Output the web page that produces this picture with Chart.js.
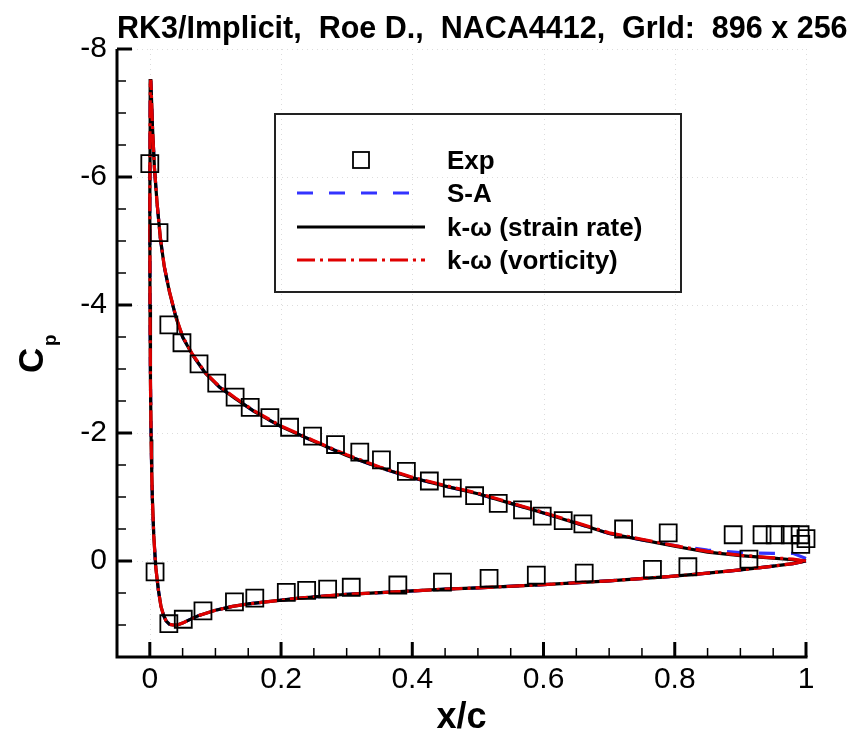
<!DOCTYPE html>
<html>
<head>
<meta charset="utf-8">
<script src="https://cdn.jsdelivr.net/npm/chart.js@4.4.1/dist/chart.umd.min.js"></script>
<style>
  html, body { margin: 0; padding: 0; background: #fff; }
  canvas { display: block; }
</style>
</head>
<body>
<canvas id="cpChart" width="860" height="732"></canvas>
<script>
const titleText = 'RK3/Implicit,  Roe D.,  NACA4412,  GrId:  896 x 256';
const xTicks = [0, 0.2, 0.4, 0.6, 0.8, 1];
const yTicks = [-8, -6, -4, -2, 0];

// surface stations: TE -> upper surface -> LE -> stagnation -> lower surface -> TE
const surfX = [
  1.0, 0.98, 0.95, 0.9, 0.85, 0.8, 0.75, 0.7, 0.65, 0.6, 0.55, 0.5, 0.45, 0.4, 0.35, 0.3, 0.25,
  0.2, 0.16, 0.13, 0.106, 0.085, 0.065, 0.05, 0.04, 0.03, 0.022, 0.016, 0.011, 0.007, 0.004, 0.0025, 0.0015,
  0.0008, 0.0003, 0.0, 0.0003, 0.001, 0.002, 0.003, 0.004, 0.006, 0.009, 0.013, 0.017, 0.021, 0.025, 0.03, 0.035,
  0.042, 0.05, 0.06, 0.075, 0.1, 0.126, 0.15, 0.177, 0.228, 0.3, 0.38, 0.45, 0.5, 0.6, 0.7, 0.79, 0.85, 0.9, 0.95, 0.98, 1.0
];
const cpSA = [
  -0.04, -0.12, -0.12, -0.13, -0.17, -0.24, -0.33, -0.43, -0.59, -0.75, -0.9, -1.05, -1.17, -1.3, -1.46, -1.65, -1.87,
  -2.1, -2.33, -2.54, -2.72, -2.93, -3.22, -3.5, -3.8, -4.2, -4.6, -5.05, -5.6, -6.15, -6.8, -7.25, -7.5,
  -7.42, -6.8, -5.5, -4.0, -2.8, -1.9, -1.35, -0.95, -0.4, 0.09, 0.45, 0.71, 0.85, 0.94, 0.99, 1.0,
  1.0, 0.97, 0.92, 0.85, 0.77, 0.71, 0.67, 0.64, 0.58, 0.52, 0.48, 0.44, 0.42, 0.37, 0.31, 0.245, 0.19, 0.14, 0.08, 0.04, 0.0
];
const cpKwStrain = [
  0.0, -0.02, -0.045, -0.085, -0.14, -0.23, -0.33, -0.43, -0.59, -0.75, -0.9, -1.05, -1.17, -1.3, -1.46, -1.65, -1.87,
  -2.1, -2.33, -2.54, -2.72, -2.93, -3.22, -3.5, -3.8, -4.2, -4.6, -5.05, -5.6, -6.15, -6.8, -7.25, -7.53,
  -7.45, -6.8, -5.5, -4.0, -2.8, -1.9, -1.35, -0.95, -0.4, 0.09, 0.45, 0.71, 0.85, 0.94, 0.99, 1.0,
  1.0, 0.97, 0.92, 0.85, 0.77, 0.71, 0.67, 0.64, 0.58, 0.52, 0.48, 0.44, 0.42, 0.37, 0.31, 0.245, 0.19, 0.14, 0.08, 0.04, 0.0
];
const cpKwVort = [
  0.0, -0.03, -0.05, -0.09, -0.15, -0.24, -0.34, -0.44, -0.6, -0.76, -0.91, -1.06, -1.18, -1.31, -1.47, -1.66, -1.88,
  -2.11, -2.34, -2.55, -2.73, -2.94, -3.23, -3.51, -3.81, -4.21, -4.61, -5.06, -5.6, -6.15, -6.8, -7.25, -7.52,
  -7.45, -6.8, -5.5, -4.0, -2.8, -1.9, -1.35, -0.95, -0.4, 0.09, 0.45, 0.71, 0.85, 0.94, 0.99, 1.0,
  1.0, 0.97, 0.92, 0.85, 0.77, 0.71, 0.67, 0.64, 0.58, 0.52, 0.48, 0.44, 0.42, 0.37, 0.31, 0.245, 0.19, 0.14, 0.08, 0.04, 0.0
];

// experiment, upper then lower surface
const expX = [
  0.0, 0.014, 0.029, 0.049, 0.075, 0.102, 0.13, 0.153, 0.183, 0.213, 0.248, 0.283, 0.32, 0.353, 0.391, 0.426,
  0.461, 0.495, 0.531, 0.568, 0.598, 0.63, 0.66, 0.722, 0.79, 0.889, 0.933, 0.953, 0.976, 0.991, 1.0, 0.992,
  0.008, 0.029, 0.051, 0.081, 0.129, 0.16, 0.208, 0.239, 0.271, 0.307, 0.378, 0.446, 0.517, 0.589, 0.662,
  0.766, 0.82, 0.913
];
const expCp = [
  -6.21, -5.13, -3.69, -3.41, -3.08, -2.78, -2.56, -2.40, -2.24, -2.09, -1.95, -1.82, -1.70, -1.58, -1.40, -1.25,
  -1.14, -1.02, -0.90, -0.80, -0.70, -0.63, -0.58, -0.50, -0.44, -0.41, -0.41, -0.41, -0.41, -0.41, -0.35, -0.26,
  0.17, 0.98, 0.91, 0.78, 0.64, 0.58, 0.49, 0.46, 0.44, 0.41, 0.375, 0.33, 0.27, 0.22, 0.19,
  0.13, 0.09, -0.03
];

const toPoints = (xs, ys) => xs.map((x, i) => ({ x: x, y: ys[i] }));

const legendItems = [
  { label: 'Exp', kind: 'square' },
  { label: 'S-A', color: '#3333ff', dash: [16, 16] },
  { label: 'k-\u03c9 (strain rate)', color: '#000000', dash: [] },
  { label: 'k-\u03c9 (vorticity)', color: '#e00000', dash: [18, 5, 3, 5] }
];

// tecplot style frame: dotted grid, inward ticks, left/bottom axis lines
const framePlugin = {
  id: 'frame',
  beforeDatasetsDraw(chart) {
    const ctx = chart.ctx;
    const a = chart.chartArea;
    const xs = chart.scales.x, ys = chart.scales.y;
    const seg = (x1, y1, x2, y2) => { ctx.beginPath(); ctx.moveTo(x1, y1); ctx.lineTo(x2, y2); ctx.stroke(); };
    ctx.save();
    ctx.strokeStyle = '#dcdcdc';
    ctx.lineWidth = 1;
    ctx.setLineDash([1, 4]);
    xTicks.forEach(v => { const p = Math.round(xs.getPixelForValue(v)) + 0.5; seg(p, a.top, p, a.bottom); });
    yTicks.forEach(v => { const p = Math.round(ys.getPixelForValue(v)) + 0.5; seg(a.left, p, a.right, p); });
    ctx.setLineDash([]);

    ctx.strokeStyle = '#000';
    ctx.lineWidth = 1.5;
    for (let i = 1; i < 20; i++) {
      if (i % 4 === 0) continue;
      const p = xs.getPixelForValue(i * 0.05);
      seg(p, a.bottom, p, a.bottom - 9);
    }
    for (let i = -15; i <= 3; i++) {
      if (i % 4 === 0) continue;
      const p = ys.getPixelForValue(i * 0.5);
      seg(a.left, p, a.left + 9, p);
    }
    ctx.lineWidth = 3;
    xTicks.forEach(v => { const p = xs.getPixelForValue(v); seg(p, a.bottom, p, a.bottom - 15); });
    yTicks.forEach(v => { const p = ys.getPixelForValue(v); seg(a.left, p, a.left + 15, p); });
    ctx.beginPath();
    ctx.moveTo(a.left, a.top);
    ctx.lineTo(a.left, a.bottom);
    ctx.lineTo(a.right + 1.5, a.bottom);
    ctx.stroke();
    ctx.restore();
  },
  afterDraw(chart) {
    const ctx = chart.ctx;
    ctx.save();
    ctx.fillStyle = '#000';
    ctx.textBaseline = 'alphabetic';
    ctx.textAlign = 'left';

    // title
    ctx.font = 'bold 30.5px "Liberation Sans", Arial, sans-serif';
    ctx.fillText(titleText, 117, 38);

    // C_p axis label
    ctx.save();
    ctx.translate(43, 373);
    ctx.rotate(-Math.PI / 2);
    ctx.font = 'bold 35px "Liberation Sans", Arial, sans-serif';
    ctx.fillText('C', 0, 0);
    ctx.font = 'bold 19px "Liberation Sans", Arial, sans-serif';
    ctx.fillText('p', 27, 13);
    ctx.restore();

    // legend box
    ctx.strokeStyle = '#222';
    ctx.lineWidth = 2;
    ctx.strokeRect(275, 114, 406, 178);
    const rows = [160, 193, 227, 260];
    legendItems.forEach((it, i) => {
      const yy = rows[i];
      if (it.kind === 'square') {
        ctx.strokeStyle = '#000';
        ctx.lineWidth = 1.8;
        ctx.strokeRect(353, yy - 8, 16, 16);
      } else {
        ctx.strokeStyle = it.color;
        ctx.lineWidth = 3;
        ctx.setLineDash(it.dash);
        ctx.beginPath();
        ctx.moveTo(297, yy);
        ctx.lineTo(425, yy);
        ctx.stroke();
        ctx.setLineDash([]);
      }
      ctx.font = 'bold 26px "Liberation Sans", Arial, sans-serif';
      ctx.fillText(it.label, 447, yy + 9);
    });
    ctx.restore();
  }
};

const tickFont = { family: '"Liberation Sans", Arial, sans-serif', size: 30 };

new Chart(document.getElementById('cpChart').getContext('2d'), {
  type: 'scatter',
  data: {
    datasets: [
      {
        label: 'Exp',
        data: toPoints(expX, expCp),
        showLine: false,
        pointStyle: 'rect',
        pointRadius: 12,
        pointBorderWidth: 1.8,
        pointBorderColor: '#000',
        pointBackgroundColor: 'rgba(0,0,0,0)',
        clip: false
      },
      {
        label: 'k-\u03c9 (vorticity)',
        data: toPoints(surfX, cpKwVort),
        showLine: true,
        borderColor: '#e00000',
        borderWidth: 3.2,
        borderDash: [18, 5, 3, 5],
        pointRadius: 0,
        clip: false
      },
      {
        label: 'k-\u03c9 (strain rate)',
        data: toPoints(surfX, cpKwStrain),
        showLine: true,
        borderColor: '#000000',
        borderWidth: 3.2,
        pointRadius: 0,
        clip: false
      },
      {
        label: 'S-A',
        data: toPoints(surfX, cpSA),
        showLine: true,
        borderColor: '#3333ff',
        borderWidth: 3.2,
        borderDash: [16, 16],
        pointRadius: 0,
        clip: false
      }
    ]
  },
  options: {
    responsive: false,
    animation: false,
    devicePixelRatio: 1,
    layout: { padding: { top: 49, right: 54, left: 0, bottom: 0 } },
    plugins: {
      legend: { display: false },
      tooltip: { enabled: false }
    },
    scales: {
      x: {
        type: 'linear',
        min: -0.05,
        max: 1,
        afterBuildTicks: s => { s.ticks = xTicks.map(v => ({ value: v })); },
        afterFit: s => { s.height = 75; },
        grid: { display: false, drawTicks: false },
        border: { display: false },
        ticks: { font: tickFont, color: '#000', padding: 5, maxRotation: 0, callback: v => String(v) },
        title: {
          display: true,
          text: 'x/c',
          color: '#000',
          font: { family: '"Liberation Sans", Arial, sans-serif', size: 36, weight: 'bold', lineHeight: 0.8 },
          padding: 0
        }
      },
      y: {
        type: 'linear',
        min: -8,
        max: 1.5,
        reverse: true,
        afterBuildTicks: s => { s.ticks = yTicks.map(v => ({ value: v })); },
        afterFit: s => { s.width = 117; },
        grid: { display: false, drawTicks: false },
        border: { display: false },
        ticks: { font: tickFont, color: '#000', padding: 10, callback: v => String(v) }
      }
    }
  },
  plugins: [framePlugin]
});
</script>
</body>
</html>
